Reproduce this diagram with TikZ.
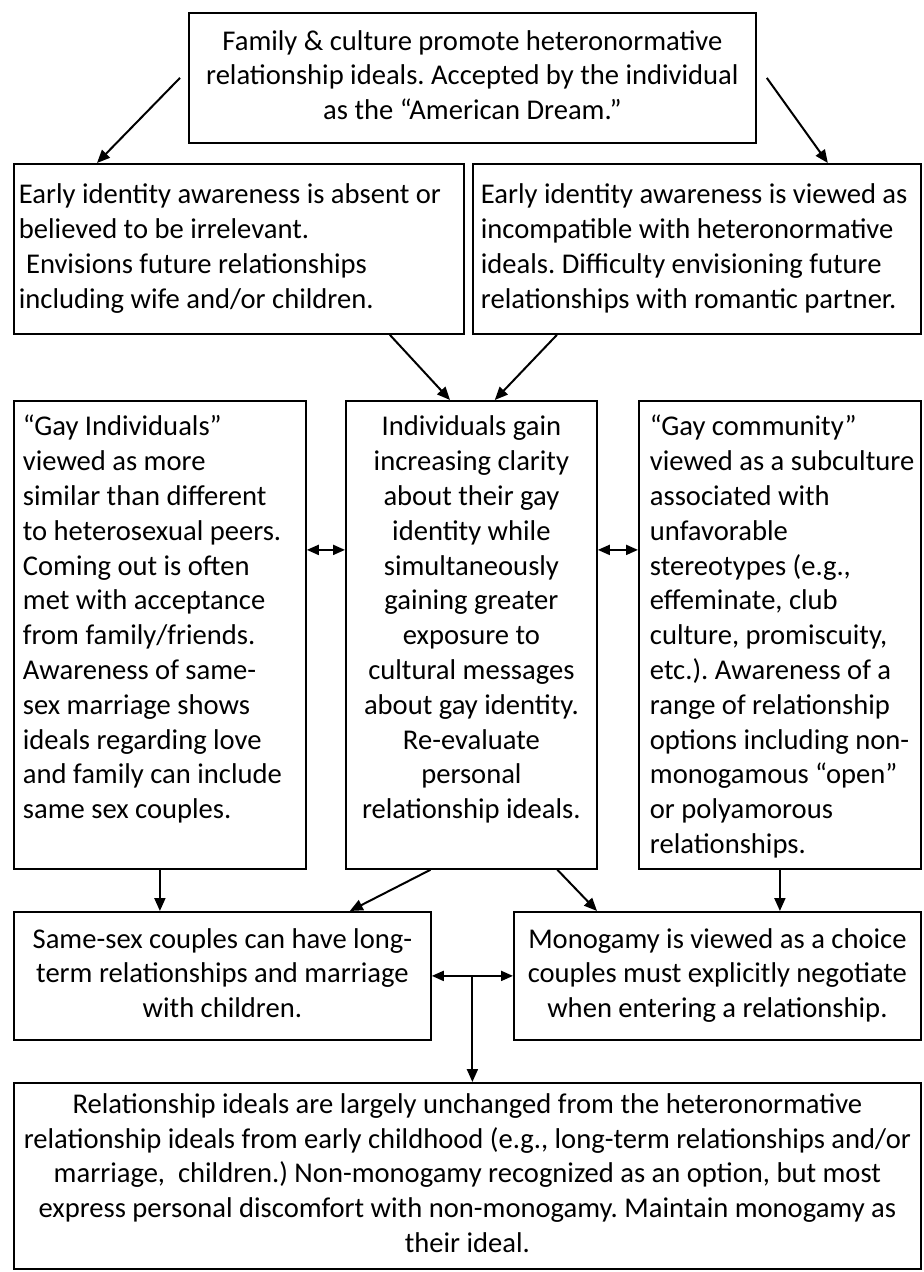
\documentclass[tikz,border=0pt]{standalone}
\usepackage{fontspec}
\setmainfont{Carlito}
\usetikzlibrary{calc,arrows.meta}
\frenchspacing
\newcommand{\leftlines}[1]{\spaceskip=0pt\xspaceskip=0pt\begin{tabular}[t]{@{}l@{}}#1\end{tabular}}
\newcommand{\midlines}[1]{\begin{tabular}[t]{@{}c@{}}#1\end{tabular}}
\begin{document}
\begin{tikzpicture}[x=0.5pt, y=-0.5pt]
        \tikzstyle{line} = [->,>={Triangle[length=6.5pt,width=5.5pt]}, line width=1pt]
        \tikzstyle{both} = [<->,>={Triangle[length=6pt,width=5pt]}, line width=1pt]
        \tikzstyle{rec} = [rectangle, draw=black, line width=0.9pt, anchor=north west, inner xsep=3pt, inner ysep=0pt, font=\fontsize{14.3}{17.4}\selectfont]
        \tikzstyle{tall} = [text height=17.5pt, text depth=216.5pt]

        \useasboundingbox (0,0) rectangle (923,1272);

        \node(family) [rec, minimum width=283.5pt, minimum height=65pt] at (188,12) {\midlines{Family \& culture promote heteronormative\\
        relationship ideals. Accepted by the individual\\ as the “American Dream.”}};

        \node(absent) [rec, inner xsep=2.5pt, text width=220pt, minimum height=85pt] at (13,163) {\leftlines{Early identity awareness is absent or\\
        believed to be irrelevant.\\ \hspace*{0.25em}Envisions future relationships\\ including wife and/or children.}};
        \node(incompat) [rec, inner xsep=4pt, text width=216pt, minimum height=85pt] at (472,163) {\leftlines{Early identity awareness is viewed as\\
        incompatible with heteronormative\\ ideals. Difficulty envisioning future\\ relationships with romantic partner.}};

        \node(gayind) [rec, tall, inner xsep=4.5pt, text width=137pt] at (13,400) {\leftlines{“Gay Individuals”\\ viewed as more\\
        similar than different\\ to heterosexual peers.\\ Coming out is often\\ met with acceptance\\
        from family/friends.\\ Awareness of same-\\ sex marriage shows\\ ideals regarding love\\
        and family can include\\ same sex couples.}};
        \node(clarity) [rec, tall, minimum width=125.5pt] at (345,400) {\midlines{Individuals gain\\ increasing clarity\\
        about their gay\\ identity while\\ simultaneously\\ gaining greater\\ exposure to\\ cultural messages\\
        about gay identity.\\ Re-evaluate\\ personal\\ relationship ideals.}};
        \node(gaycomm) [rec, tall, inner xsep=5.5pt, text width=130pt] at (638,400) {\leftlines{“Gay community”\\ viewed as a subculture\\
        associated with\\ unfavorable\\ stereotypes (e.g.,\\ effeminate, club\\ culture, promiscuity,\\
        etc.). Awareness of a\\ range of relationship\\ options including non-\\ monogamous “open”\\
        or polyamorous\\ relationships.}};

        \node(longterm) [rec, minimum width=208.5pt, minimum height=64pt] at (13,911) {\midlines{Same-sex couples can have long-\\
        term relationships and marriage\\ with children.}};
        \node(choice) [rec, minimum width=203.5pt, minimum height=64pt] at (513,911) {\midlines{Monogamy is viewed as a choice\\
        couples must explicitly negotiate\\ when entering a relationship.}};

        \node(unchanged) [rec, minimum width=453.5pt, minimum height=93pt] at (13,1082) {\midlines{Relationship ideals are largely
        unchanged from the heteronormative\\ relationship ideals from early childhood (e.g., long-term relationships and/or\\
        marriage,~ children.) Non-monogamy recognized as an option, but most\\ express personal discomfort with
        non-monogamy. Maintain monogamy as\\ their ideal.}};

        \draw[line] ([xshift=-4pt]family.west) -- ([xshift=42pt]absent.north west);
        \draw[line] ([xshift=5pt]family.east) -- ([xshift=-47pt]incompat.north east);
        \draw[line] ([xshift=-37.5pt]absent.south east) -- ([xshift=52.5pt]clarity.north west);
        \draw[line] ([xshift=42.5pt]incompat.south west) -- ([xshift=-51.5pt]clarity.north east);

        \draw[both] ([yshift=42.5pt]gayind.east) -- ([yshift=42.5pt]clarity.west);
        \draw[both] ([yshift=42.5pt]clarity.east) -- ([yshift=42.5pt]gaycomm.west);

        \draw[line] (gayind.south) -- (gayind.south |- longterm.north);
        \draw[line] ([xshift=-20.5pt]clarity.south) -- ([xshift=-41pt]longterm.north east);
        \draw[line] ([xshift=43pt]clarity.south) -- ([xshift=42pt]choice.north west);
        \draw[line] (gaycomm.south) -- (gaycomm.south |- choice.north);

        \draw[both] (longterm.east) -- (choice.west);
        \coordinate (junct) at ($(longterm.east)!0.5!(choice.west)$);
        \draw[line] (junct) -- (junct |- unchanged.north);
    \end{tikzpicture}
\end{document}
